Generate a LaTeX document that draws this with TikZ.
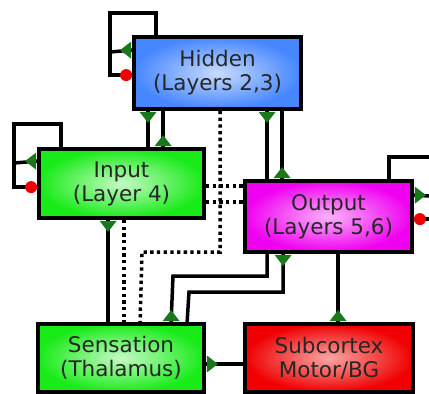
\documentclass[tikz,border=0pt]{standalone}
\usepackage{fontspec}
\setmainfont{DejaVu Sans}
\usetikzlibrary{calc}
\definecolor{hidblue}{RGB}{70,135,255}
\definecolor{inpgreen}{RGB}{25,235,25}
\definecolor{outmag}{RGB}{240,0,240}
\definecolor{subred}{RGB}{240,0,0}
\definecolor{mkgreen}{RGB}{25,120,25}
\definecolor{dotred}{RGB}{240,0,0}
\tikzset{
  box/.style={draw=black, line width=3.8pt, inner sep=0pt, align=center,
    font=\fontsize{21.5}{24}\selectfont, text=black!85, shading=radial},
  hidbox/.style={box, inner color=white!70!hidblue, outer color=hidblue},
  inpbox/.style={box, inner color=white!75!inpgreen, outer color=inpgreen},
  outbox/.style={box, inner color=white!70!outmag, outer color=outmag},
  subbox/.style={box, inner color=white!65!subred, outer color=subred},
  wire/.style={draw=black, line width=3.5pt},
  dots/.style={draw=black, line width=3.5pt, dash pattern=on 3.3pt off 3.4pt},
  tri/.style={fill=mkgreen},
  reddot/.style={fill=dotred},
}
\newcommand\mkTri[2]{\fill[tri,shift={(#1)},rotate=#2] (1pt,-8.5pt) -- (12pt,0pt) -- (1pt,8.5pt) -- cycle;}
\newcommand\mkDot[2]{\fill[reddot,shift={(#1)},rotate=#2] (6pt,0pt) circle (6pt);}
\begin{document}
\begin{tikzpicture}[x=1pt,y=-1pt]
\useasboundingbox (0,0) rectangle (429,394);
\clip (0,0) rectangle (429,394);
\fill[white] (0,0) rectangle (429,394);

\node[hidbox, minimum width=167pt, minimum height=72pt] (hid) at (217.5,73) {Hidden\\(Layers 2,3)};
\node[inpbox, minimum width=165pt, minimum height=69pt] (inp) at (121.5,183.5) {Input\\(Layer 4)};
\node[outbox, minimum width=167pt, minimum height=71pt] (out) at (328.5,216.5) {Output\\(Layers 5,6)};
\node[inpbox, minimum width=166pt, minimum height=68pt] (sens) at (121,358) {Sensation\\(Thalamus)};
\node[subbox, minimum width=168pt, minimum height=68pt] (sub) at (329,358) {Subcortex\\Motor/BG};

% attachment points
\coordinate (h1) at ([xshift=16pt]hid.south west);
\coordinate (h2) at ([xshift=31pt]hid.south west);
\coordinate (h3) at ([xshift=88pt]hid.south west);
\coordinate (h4) at ([xshift=135pt]hid.south west);
\coordinate (h5) at ([xshift=150pt]hid.south west);
\coordinate (hl1) at ([xshift=24pt]hid.north west);
\coordinate (hl2) at ([yshift=-15pt]hid.north west);
\coordinate (hl3) at ([yshift=-40pt]hid.north west);
\coordinate (il1) at ([xshift=24pt]inp.north west);
\coordinate (il2) at ([yshift=-14pt]inp.north west);
\coordinate (il3) at ([yshift=-40pt]inp.north west);
\coordinate (i1) at ([xshift=71pt]inp.south west);
\coordinate (i2) at ([xshift=87pt]inp.south west);
\coordinate (ie1) at ([yshift=-39pt]inp.north east);
\coordinate (ie2) at ([yshift=-55pt]inp.north east);
\coordinate (ol1) at ([xshift=-25pt]out.north east);
\coordinate (ol2) at ([yshift=-16pt]out.north east);
\coordinate (ol3) at ([yshift=-40pt]out.north east);
\coordinate (o1) at ([xshift=24pt]out.south west);
\coordinate (o2) at ([xshift=40pt]out.south west);
\coordinate (o3) at ([xshift=95pt]out.south west);
\coordinate (s1) at ([xshift=135pt]sens.north west);
\coordinate (s2) at ([xshift=104pt]sens.north west);
\coordinate (s3) at ([xshift=151pt]sens.north west);
\coordinate (se) at ([yshift=-6pt]sens.east);

% self loops
\draw[wire] (hl1) |- (110,13) |- (hl3);
\draw[wire] (110,52) -- (hl2);
\draw[wire] (il1) |- (14,124) |- (il3);
\draw[wire] (14,163) -- (il2);
\draw[wire] (ol1) |- (445,157) |- (ol3);
\draw[wire] (445,197) -- (ol2);

% solid connectors
\draw[wire] (h1) -- (h1 |- inp.north);
\draw[wire] (h2) -- (h2 |- inp.north);
\draw[wire] (h4) -- (h4 |- out.north);
\draw[wire] (h5) -- (h5 |- out.north);
\draw[wire] (i1) -- (i1 |- sens.north);
\draw[wire] (o1) |- (173,276) -- (s1);
\draw[wire] (o2) |- (189,292) -- (s3);
\draw[wire] (o3) -- (o3 |- sub.north);
\draw[wire] (se) -- (se -| sub.west);

% dotted connectors
\draw[dots] (h3) |- (142,252) -- (s2);
\draw[dots] (i2) -- (i2 |- sens.north);
\draw[dots] (ie1) -- (ie1 -| out.west);
\draw[dots] (ie2) -- (ie2 -| out.west);

% markers
\mkTri{h1}{-90}
\mkTri{h4}{-90}
\mkTri{h2 |- inp.north}{90}
\mkTri{h5 |- out.north}{90}
\mkTri{i1}{-90}
\mkTri{o2}{-90}
\mkTri{s1}{90}
\mkTri{o3 |- sub.north}{90}
\mkTri{se}{0}
\mkTri{hl2}{180}
\mkTri{il2}{180}
\mkTri{ol2}{0}
\mkDot{hl3}{180}
\mkDot{il3}{180}
\mkDot{ol3}{0}
\end{tikzpicture}
\end{document}
